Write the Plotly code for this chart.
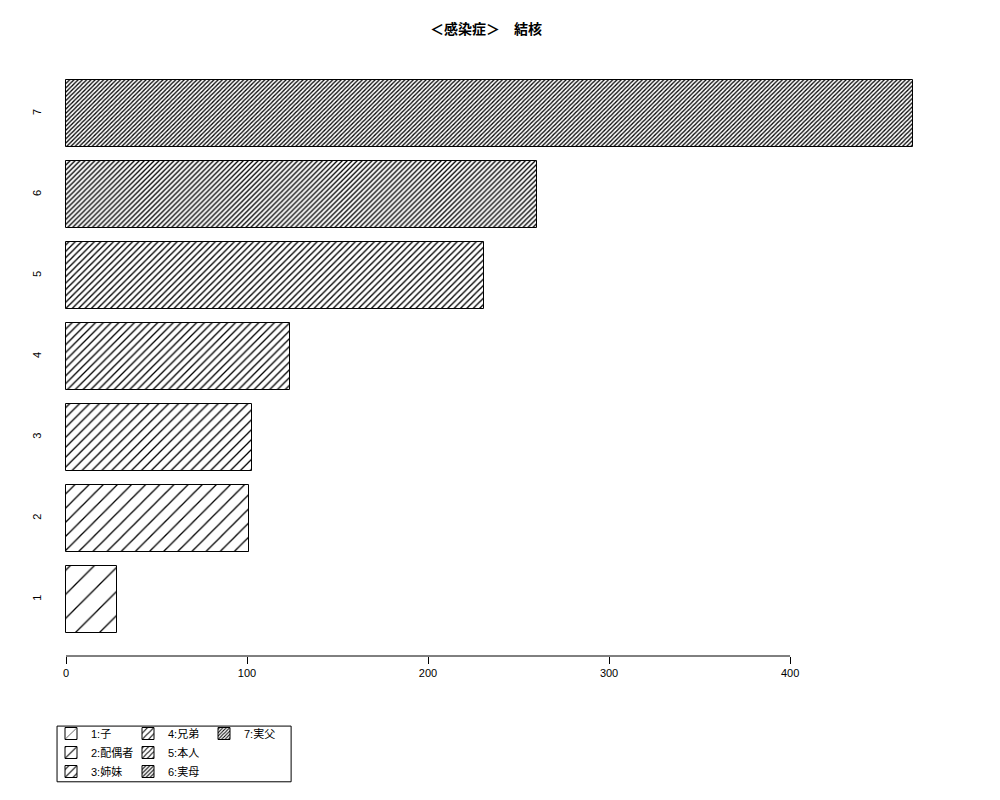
import plotly.graph_objects as go

# data
categories = [1, 2, 3, 4, 5, 6, 7]
values = [28, 101, 103, 124, 231, 260, 468]
legend_names = ["1:子", "2:配偶者", "3:姉妹", "4:兄弟", "5:本人", "6:実母", "7:実父"]
hatch_sizes = [17, 10, 7, 5.5, 4.5, 3.5, 3]
x_ticks = [0, 100, 200, 300, 400]

FONT = "Liberation Sans, Noto Sans CJK JP, sans-serif"

fig = go.Figure()

# each category gets its own legend column like the R legend (ncol=3)
legend_of = ["legend", "legend", "legend", "legend2", "legend2", "legend2", "legend3"]

for i, cat in enumerate(categories):
    s = hatch_sizes[i]
    fig.add_trace(go.Bar(
        x=[values[i]], y=[cat], orientation="h", width=0.833,
        name=legend_names[i], legend=legend_of[i],
        marker=dict(
            color="white",
            line=dict(color="black", width=1),
            pattern=dict(shape="/", size=s, solidity=min(0.45, 1.3 / s),
                         fgcolor="black", fgopacity=1, bgcolor="white"),
        ),
        hoverinfo="x+y",
    ))

# R-style axis: line only between first and last tick
fig.add_shape(type="line", xref="x", yref="paper", x0=x_ticks[0], x1=x_ticks[-1],
              y0=0, y1=0, line=dict(color="black", width=1))
# legend frame
fig.add_shape(type="rect", xref="paper", yref="paper", x0=0.008, x1=0.274,
              y0=-0.210, y1=-0.117, line=dict(color="black", width=1))

leg_common = dict(xref="container", yref="container", yanchor="top", xanchor="left",
                  bgcolor="rgba(0,0,0,0)", font=dict(family=FONT, size=11, color="black"),
                  itemwidth=30, tracegroupgap=0, orientation="v")

fig.update_layout(
    width=1000, height=800,
    paper_bgcolor="white", plot_bgcolor="white",
    margin=dict(l=42, r=78, t=49, b=152, autoexpand=False),
    title=dict(text="<b>＜感染症＞　結核</b>", x=0.478, xanchor="center", y=1 - 21 / 800,
               yanchor="middle", font=dict(family=FONT, size=14, color="black")),
    showlegend=True,
    legend=dict(x=0.043, y=1 - 711 / 800, **leg_common),
    legend2=dict(x=0.120, y=1 - 711 / 800, **leg_common),
    legend3=dict(x=0.196, y=1 - 711 / 800, **leg_common),
    bargap=0,
    xaxis=dict(range=[-8.84, 477.3], tickvals=x_ticks, ticks="outside", ticklen=7,
               tickcolor="black", showline=False, showgrid=False, zeroline=False,
               tickfont=dict(family=FONT, size=11, color="black")),
    yaxis=dict(range=[0.299, 7.70], tickvals=categories, tickangle=-90, ticks="",
               showline=False, showgrid=False, zeroline=False, ticklabelstandoff=6,
               tickfont=dict(family=FONT, size=11, color="black")),
)

fig.write_html("out.html")
